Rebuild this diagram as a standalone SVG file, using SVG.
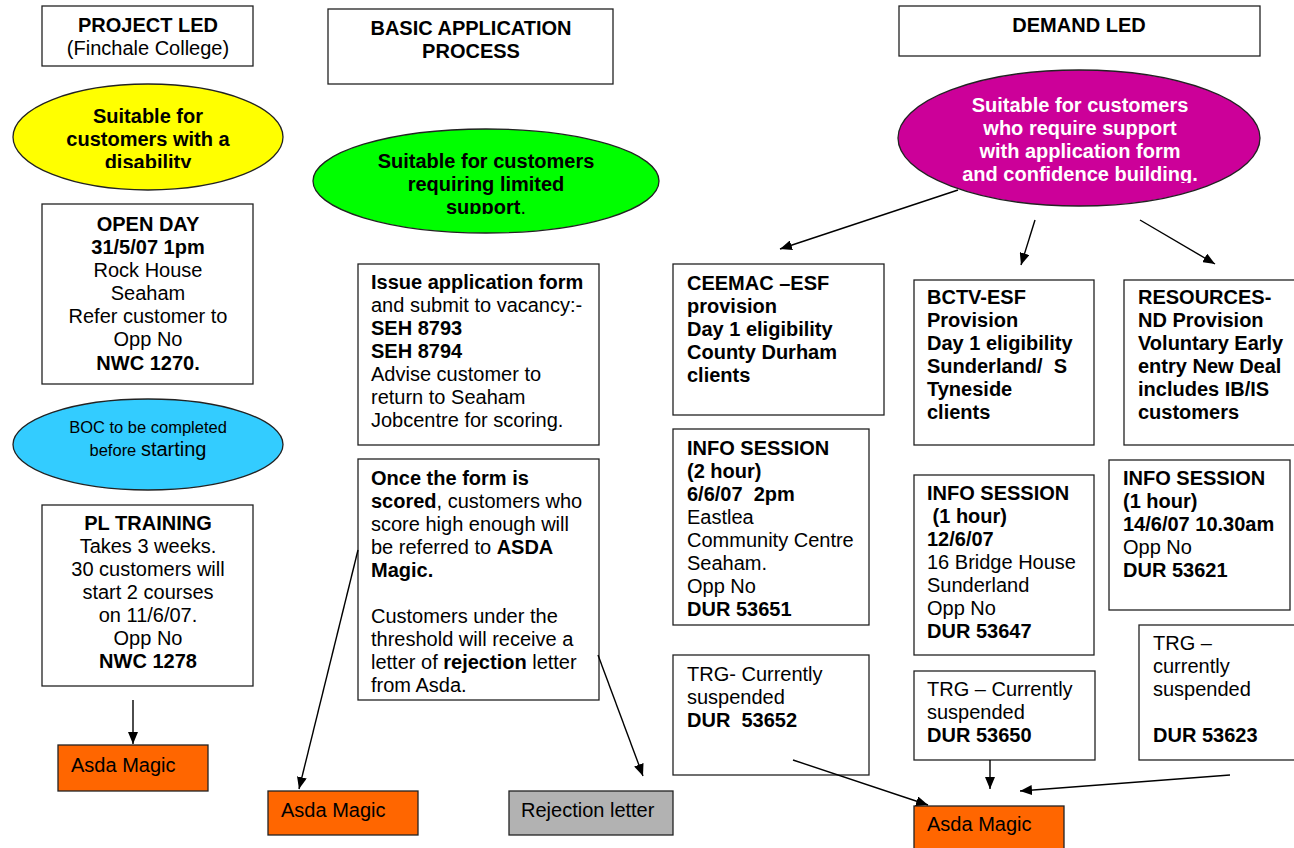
<svg xmlns="http://www.w3.org/2000/svg" width="1294" height="848" viewBox="0 0 1294 848">
<style>
text{font-family:"Liberation Sans",Arial,sans-serif;font-size:20px;fill:#000}
.b{font-weight:bold}
.c{text-anchor:middle}
.box{fill:#fff;stroke:#222;stroke-width:1.3}
.ell{stroke:#222;stroke-width:1.3}
.w{fill:#fff}
.con line{stroke:#000;stroke-width:1.4;marker-end:url(#ah)}
</style>
<defs>
<marker id="ah" markerUnits="userSpaceOnUse" markerWidth="12" markerHeight="10" viewBox="0 0 12 10" refX="12" refY="5" orient="auto"><path d="M0,0 L12,5 L0,10 Z" fill="#000"/></marker>
<clipPath id="cy"><rect x="0" y="80" width="300" height="88"/></clipPath>
<clipPath id="cg"><rect x="300" y="120" width="370" height="94"/></clipPath>
<clipPath id="cm"><rect x="890" y="60" width="380" height="123"/></clipPath>
</defs>
<rect width="1294" height="848" fill="#fff"/>

<g id="projectLed"><rect class="box" x="42" y="6" width="211" height="60"/>
<text class="b c" x="148" y="32">PROJECT LED</text><text class="c" x="148" y="55">(Finchale College)</text></g>

<g id="yellowEllipse"><ellipse class="ell" cx="148" cy="137" rx="135" ry="53" fill="#FFFF00"/>
<g clip-path="url(#cy)"><text class="b c" x="148" y="123">Suitable for</text><text class="b c" x="148" y="146">customers with a</text><text class="b c" x="148" y="169">disability</text></g></g>

<g id="openDay"><rect class="box" x="42" y="204" width="211" height="180"/>
<text class="b c" x="148" y="231">OPEN DAY</text><text class="b c" x="148" y="254">31/5/07 1pm</text><text class="c" x="148" y="277">Rock House</text><text class="c" x="148" y="300">Seaham</text><text class="c" x="148" y="323">Refer customer to</text><text class="c" x="148" y="346">Opp No</text><text class="b c" x="148" y="370">NWC 1270.</text></g>

<g id="blueEllipse"><ellipse class="ell" cx="148" cy="444.5" rx="135" ry="45.5" fill="#33CCFF"/>
<text class="c" x="148" y="433" style="font-size:16.5px">BOC to be completed</text><text class="c" x="148" y="456"><tspan style="font-size:16.5px">before </tspan>starting</text></g>

<g id="plTraining"><rect class="box" x="42" y="505" width="211" height="181"/>
<text class="b c" x="148" y="530">PL TRAINING</text><text class="c" x="148" y="553">Takes 3 weeks.</text><text class="c" x="148" y="576">30 customers will</text><text class="c" x="148" y="599">start 2 courses</text><text class="c" x="148" y="622">on 11/6/07.</text><text class="c" x="148" y="645">Opp No</text><text class="b c" x="148" y="668">NWC 1278</text></g>

<g id="asdaLeft"><rect class="box" x="58" y="745" width="150" height="46" style="fill:#FF6600"/><text x="71" y="772">Asda Magic</text></g>

<g id="basicApp"><rect class="box" x="328" y="9" width="285" height="75"/>
<text class="b c" x="471" y="35">BASIC APPLICATION</text><text class="b c" x="471" y="58">PROCESS</text></g>

<g id="greenEllipse"><ellipse class="ell" cx="486" cy="181" rx="173" ry="52" fill="#00FF00"/>
<g clip-path="url(#cg)"><text class="b c" x="486" y="168">Suitable for customers</text><text class="b c" x="486" y="191">requiring limited</text><text class="c" x="486" y="214"><tspan class="b">support</tspan>.</text></g></g>

<g id="issueForm"><rect class="box" x="358" y="264" width="241" height="181"/>
<text x="371" y="289" class="b">Issue application form</text><text x="371" y="312">and submit to vacancy:-</text><text x="371" y="335" class="b">SEH 8793</text><text x="371" y="358" class="b">SEH 8794</text><text x="371" y="381">Advise customer to</text><text x="371" y="404">return to Seaham</text><text x="371" y="427">Jobcentre for scoring.</text></g>

<g id="onceScored"><rect class="box" x="358" y="459" width="241" height="241"/>
<text x="371" y="485" class="b">Once the form is</text><text x="371" y="508"><tspan class="b">scored</tspan>, customers who</text><text x="371" y="531">score high enough will</text><text x="371" y="554">be referred to <tspan class="b">ASDA</tspan></text><text x="371" y="577" class="b">Magic.</text><text x="371" y="623">Customers under the</text><text x="371" y="646">threshold will receive a</text><text x="371" y="669">letter of <tspan class="b">rejection</tspan> letter</text><text x="371" y="692">from Asda.</text></g>

<g id="asdaMid"><rect class="box" x="268" y="791" width="150" height="44" style="fill:#FF6600"/><text x="281" y="817">Asda Magic</text></g>

<g id="rejection"><rect class="box" x="509" y="791" width="164" height="44" style="fill:#B2B2B2"/><text x="521" y="817">Rejection letter</text></g>

<g id="demandLed"><rect class="box" x="899" y="6" width="361" height="50"/><text class="b c" x="1079" y="32">DEMAND LED</text></g>

<g id="magentaEllipse"><ellipse class="ell" cx="1079" cy="138" rx="181" ry="68" fill="#CC0099"/>
<g clip-path="url(#cm)"><text class="b c w" x="1080" y="112">Suitable for customers</text><text class="b c w" x="1080" y="135">who require support</text><text class="b c w" x="1080" y="158">with application form</text><text class="b c w" x="1080" y="181">and confidence building.</text></g></g>

<g id="ceemac"><rect class="box" x="673" y="264" width="211" height="151"/>
<text class="b" x="687" y="290">CEEMAC –ESF</text><text class="b" x="687" y="313">provision</text><text class="b" x="687" y="336">Day 1 eligibility</text><text class="b" x="687" y="359">County Durham</text><text class="b" x="687" y="382">clients</text></g>

<g id="bctv"><rect class="box" x="914" y="280" width="180" height="165"/>
<text class="b" x="927" y="304">BCTV-ESF</text><text class="b" x="927" y="327">Provision</text><text class="b" x="927" y="350">Day 1 eligibility</text><text class="b" x="927" y="373" xml:space="preserve">Sunderland/  S</text><text class="b" x="927" y="396">Tyneside</text><text class="b" x="927" y="419">clients</text></g>

<g id="resources"><rect class="box" x="1124" y="280" width="180" height="165"/>
<text class="b" x="1138" y="304">RESOURCES-</text><text class="b" x="1138" y="327">ND Provision</text><text class="b" x="1138" y="350">Voluntary Early</text><text class="b" x="1138" y="373">entry New Deal</text><text class="b" x="1138" y="396">includes IB/IS</text><text class="b" x="1138" y="419">customers</text></g>

<g id="info2h"><rect class="box" x="673" y="429" width="196" height="196"/>
<text class="b" x="687" y="455">INFO SESSION</text><text class="b" x="687" y="478">(2 hour)</text><text class="b" x="687" y="501" xml:space="preserve">6/6/07  2pm</text><text x="687" y="524">Eastlea</text><text x="687" y="547">Community Centre</text><text x="687" y="570">Seaham.</text><text x="687" y="593">Opp No</text><text class="b" x="687" y="616">DUR 53651</text></g>

<g id="info1hMid"><rect class="box" x="914" y="475" width="180" height="180"/>
<text class="b" x="927" y="500">INFO SESSION</text><text class="b" x="927" y="523" xml:space="preserve"> (1 hour)</text><text class="b" x="927" y="546">12/6/07</text><text x="927" y="569">16 Bridge House</text><text x="927" y="592">Sunderland</text><text x="927" y="615">Opp No</text><text class="b" x="927" y="638">DUR 53647</text></g>

<g id="info1hRight"><rect class="box" x="1109" y="460" width="181" height="150"/>
<text class="b" x="1123" y="485">INFO SESSION</text><text class="b" x="1123" y="508">(1 hour)</text><text class="b" x="1123" y="531">14/6/07 10.30am</text><text x="1123" y="554">Opp No</text><text class="b" x="1123" y="577">DUR 53621</text></g>

<g id="trgLeft"><rect class="box" x="673" y="655" width="196" height="120"/>
<text x="687" y="681">TRG- Currently</text><text x="687" y="704">suspended</text><text class="b" x="687" y="727" xml:space="preserve">DUR  53652</text></g>

<g id="trgMid"><rect class="box" x="914" y="671" width="181" height="89"/>
<text x="927" y="696">TRG – Currently</text><text x="927" y="719">suspended</text><text class="b" x="927" y="742">DUR 53650</text></g>

<g id="trgRight"><rect class="box" x="1139" y="625" width="165" height="135"/>
<text x="1153" y="650">TRG –</text><text x="1153" y="673">currently</text><text x="1153" y="696">suspended</text><text class="b" x="1153" y="742">DUR 53623</text></g>

<g id="asdaRight"><rect class="box" x="914" y="806" width="150" height="50" style="fill:#FF6600"/><text x="927" y="831">Asda Magic</text></g>

<g id="connectors" class="con">
<line x1="133" y1="700" x2="133" y2="744"/>
<line x1="358" y1="550" x2="299" y2="789"/>
<line x1="598" y1="655" x2="643" y2="776"/>
<line x1="958" y1="190" x2="780" y2="249"/>
<line x1="1035" y1="220" x2="1021" y2="265"/>
<line x1="1140" y1="220" x2="1215" y2="264"/>
<line x1="793" y1="760" x2="928" y2="805"/>
<line x1="990" y1="760" x2="990" y2="789"/>
<line x1="1230" y1="775" x2="1020" y2="791"/>
</g>
</svg>
